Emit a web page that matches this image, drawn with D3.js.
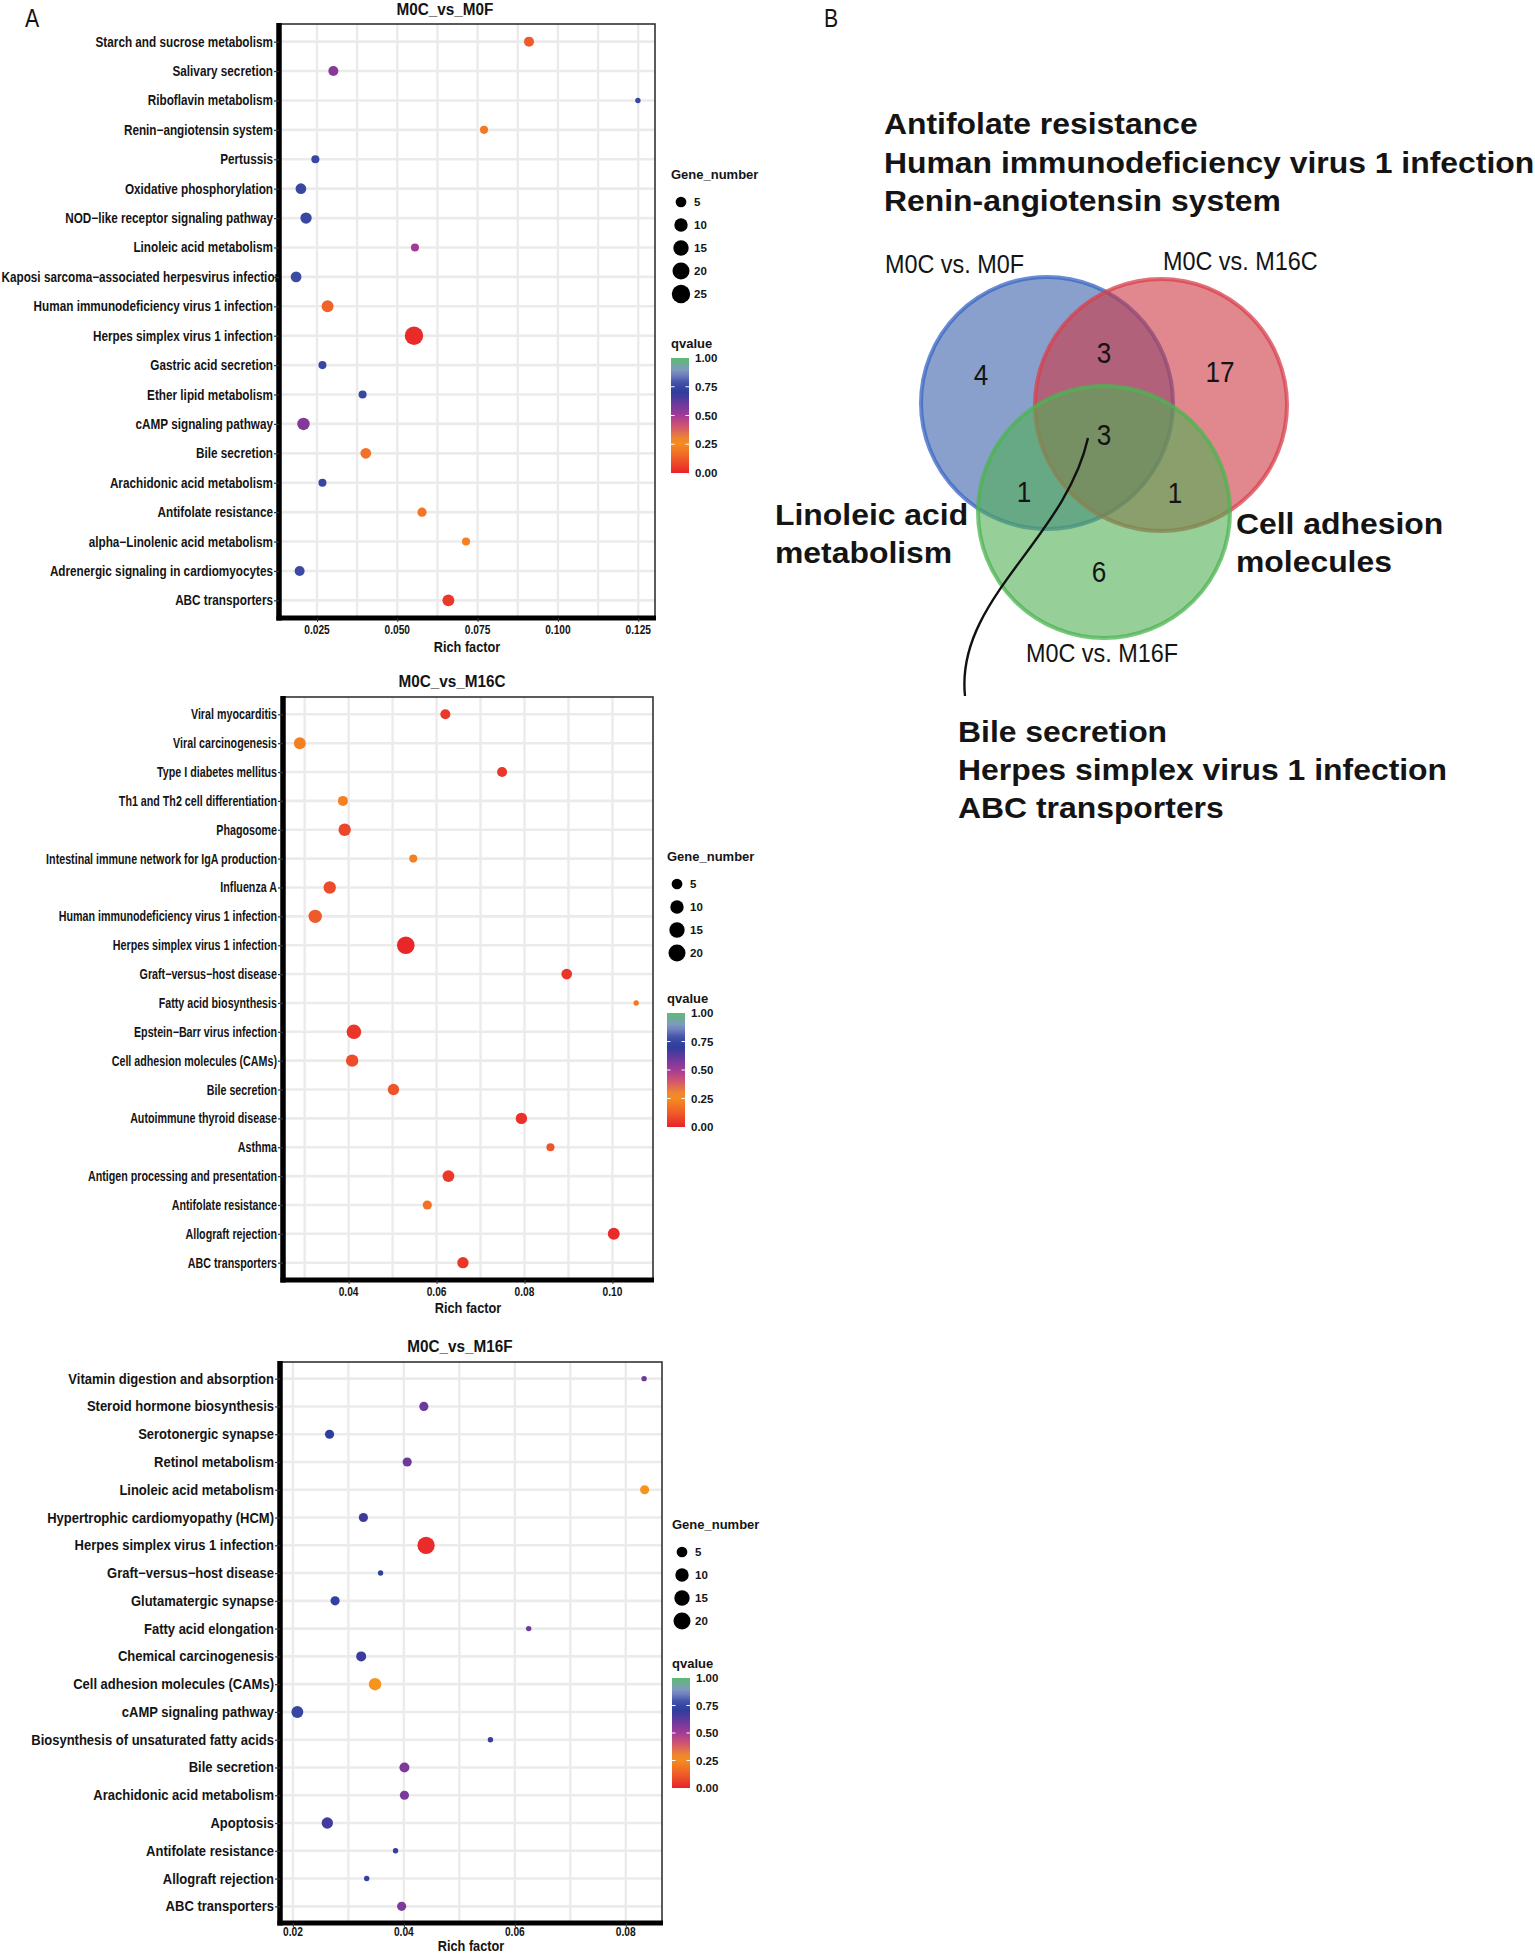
<!DOCTYPE html>
<html>
<head>
<meta charset="utf-8">
<script src="https://cdnjs.cloudflare.com/ajax/libs/d3/7.8.5/d3.min.js"></script>
<style>
    body { margin: 0; background: #fff; }
    svg { display: block; }
    text { font-family: "Liberation Sans", Arial, sans-serif; fill: #141414; }
</style>
</head>
<body>
<svg id="fig" width="1535" height="1954"></svg>
<script>
    // ---- M0C_vs_M0F ----
    const m0fPathways = ["Starch and sucrose metabolism", "Salivary secretion", "Riboflavin metabolism",
        "Renin\u2212angiotensin system", "Pertussis", "Oxidative phosphorylation", "NOD\u2212like receptor signaling pathway",
        "Linoleic acid metabolism", "Kaposi sarcoma\u2212associated herpesvirus infection", "Human immunodeficiency virus 1 infection",
        "Herpes simplex virus 1 infection", "Gastric acid secretion", "Ether lipid metabolism", "cAMP signaling pathway",
        "Bile secretion", "Arachidonic acid metabolism", "Antifolate resistance", "alpha\u2212Linolenic acid metabolism",
        "Adrenergic signaling in cardiomyocytes", "ABC transporters"];
    const m0fRich = [0.0910, 0.0301, 0.1249, 0.0770, 0.0245, 0.0200, 0.0216, 0.0555, 0.0185, 0.0283,
        0.0552, 0.0267, 0.0392, 0.0208, 0.0402, 0.0267, 0.0577, 0.0714, 0.0196, 0.0659];
    const m0fGenes = [4, 4, 1, 2, 2, 5, 6, 2, 5, 7, 25, 2, 2, 8, 5, 2, 3, 2, 4, 7];
    const m0fQ = [0.12, 0.55, 0.76, 0.20, 0.76, 0.76, 0.76, 0.50, 0.78, 0.14,
        0.02, 0.76, 0.76, 0.56, 0.18, 0.76, 0.19, 0.22, 0.78, 0.05];
    const m0fTicks = [0.025, 0.05, 0.075, 0.1, 0.125];
    const m0fGeneBreaks = [5, 10, 15, 20, 25];

    // ---- M0C_vs_M16C ----
    const m16cPathways = ["Viral myocarditis", "Viral carcinogenesis", "Type I diabetes mellitus",
        "Th1 and Th2 cell differentiation", "Phagosome", "Intestinal immune network for IgA production", "Influenza A",
        "Human immunodeficiency virus 1 infection", "Herpes simplex virus 1 infection", "Graft\u2212versus\u2212host disease",
        "Fatty acid biosynthesis", "Epstein\u2212Barr virus infection", "Cell adhesion molecules (CAMs)", "Bile secretion",
        "Autoimmune thyroid disease", "Asthma", "Antigen processing and presentation", "Antifolate resistance",
        "Allograft rejection", "ABC transporters"];
    const m16cRich = [0.0620, 0.0289, 0.0749, 0.0387, 0.0391, 0.0547, 0.0357, 0.0324, 0.0530, 0.0896,
        0.1054, 0.0412, 0.0408, 0.0502, 0.0793, 0.0859, 0.0627, 0.0579, 0.1003, 0.0660];
    const m16cGenes = [4, 7, 4, 4, 8, 2, 8, 10, 22, 5, 1, 13, 8, 6, 6, 2, 7, 3, 7, 6];
    const m16cQ = [0.05, 0.22, 0.04, 0.22, 0.08, 0.22, 0.09, 0.12, 0.01, 0.04,
        0.20, 0.04, 0.09, 0.11, 0.03, 0.11, 0.05, 0.18, 0.02, 0.04];
    const m16cTicks = [0.04, 0.06, 0.08, 0.10];
    const m16cGeneBreaks = [5, 10, 15, 20];

    // ---- M0C_vs_M16F ----
    const m16fPathways = ["Vitamin digestion and absorption", "Steroid hormone biosynthesis", "Serotonergic synapse",
        "Retinol metabolism", "Linoleic acid metabolism", "Hypertrophic cardiomyopathy (HCM)",
        "Herpes simplex virus 1 infection", "Graft\u2212versus\u2212host disease", "Glutamatergic synapse",
        "Fatty acid elongation", "Chemical carcinogenesis", "Cell adhesion molecules (CAMs)", "cAMP signaling pathway",
        "Biosynthesis of unsaturated fatty acids", "Bile secretion", "Arachidonic acid metabolism", "Apoptosis",
        "Antifolate resistance", "Allograft rejection", "ABC transporters"];
    const m16fRich = [0.0833, 0.0436, 0.0266, 0.0406, 0.0834, 0.0327, 0.0440, 0.0358, 0.0276, 0.0625,
        0.0323, 0.0348, 0.0208, 0.0556, 0.0401, 0.0401, 0.0262, 0.0385, 0.0333, 0.0396];
    const m16fGenes = [1, 3, 3, 3, 3, 3, 21, 1, 3, 1, 4, 8, 7, 1, 4, 3, 6, 1, 1, 3];
    const m16fQ = [0.60, 0.60, 0.70, 0.60, 0.27, 0.68, 0.02, 0.72, 0.72, 0.60,
        0.68, 0.27, 0.75, 0.68, 0.57, 0.57, 0.67, 0.72, 0.72, 0.57];
    const m16fTicks = [0.02, 0.04, 0.06, 0.08];
    const m16fGeneBreaks = [5, 10, 15, 20];

    const qBreaks = [0, 0.25, 0.5, 0.75, 1];

    // ---- Venn (B) ----
    const vennSets = ["M0C vs. M0F", "M0C vs. M16C", "M0C vs. M16F"];
    // regions: M0F only, M16C only, M16F only, M0F&M16C, M0F&M16F, M16C&M16F, all three
    const vennCounts = [4, 17, 6, 3, 1, 1, 3];
    const sharedM0fM16c = ["Antifolate resistance", "Human immunodeficiency virus 1 infection", "Renin-angiotensin system"];
    const sharedM0fM16f = ["Linoleic acid", "metabolism"];
    const sharedM16cM16f = ["Cell adhesion", "molecules"];
    const sharedAll = ["Bile secretion", "Herpes simplex virus 1 infection", "ABC transporters"];

    // qvalue colour ramp (red -> orange -> purple -> blue -> green)
    const qColor = d3.scaleLinear()
        .domain([0, 0.12, 0.27, 0.4, 0.5, 0.6, 0.7, 0.78, 0.88, 1])
        .range(["#e82229", "#ee5a2a", "#f7941d", "#d2566e", "#a33b95", "#6c399c", "#2f3d9d", "#3b4ba3", "#8594cb", "#5cbc71"]);

    // gene number -> radius (area style, size 1 at smallest)
    const rScale = d3.scaleSqrt().domain([0, 24]).range([2.7, 2.7 + 1.33 * Math.sqrt(24)]);

    const svg = d3.select("#fig");
    const defs = svg.append("defs");

    const grad = defs.append("linearGradient").attr("id", "qgrad")
        .attr("x1", 0).attr("y1", 1).attr("x2", 0).attr("y2", 0);
    grad.selectAll("stop").data(d3.range(0, 1.0001, 0.05)).join("stop")
        .attr("offset", d => d)
        .attr("stop-color", d => qColor(d));

    // squeeze text horizontally, the figure uses a condensed face
    function narrowText(sel, x, y, k) {
        return sel.attr("transform", `translate(${x},${y}) scale(${k},1)`);
    }

    function dotPanel(p) {
        const g = svg.append("g");
        const lo = d3.min(p.rich), hi = d3.max(p.rich), pad = (hi - lo) * 0.05;
        const x = d3.scaleLinear().domain([lo - pad, hi + pad]).range([p.left, p.right]);
        const y = d3.scalePoint().domain(p.cats).range([p.top, p.bottom]).padding(0.6);

        const step = p.ticks[1] - p.ticks[0];
        const minors = d3.range(p.ticks[0] - step / 2, hi + pad, step).filter(v => v > lo - pad);

        // grid
        g.selectAll("line.vgrid").data(p.ticks.concat(minors)).join("line")
            .attr("x1", d => x(d)).attr("x2", d => x(d))
            .attr("y1", p.top).attr("y2", p.bottom)
            .attr("stroke", "#ebebeb").attr("stroke-width", 2.4);
        g.selectAll("line.hgrid").data(p.cats).join("line")
            .attr("x1", p.left).attr("x2", p.right)
            .attr("y1", d => y(d)).attr("y2", d => y(d))
            .attr("stroke", "#ebebeb").attr("stroke-width", 2.6);

        // points
        g.selectAll("circle").data(p.cats).join("circle")
            .attr("cx", (d, i) => x(p.rich[i]))
            .attr("cy", d => y(d))
            .attr("r", (d, i) => rScale(p.genes[i] - 1))
            .attr("fill", (d, i) => qColor(p.q[i]));

        // frame
        g.append("rect").attr("x", p.left).attr("y", p.top)
            .attr("width", p.right - p.left).attr("height", p.bottom - p.top)
            .attr("fill", "none").attr("stroke", "#333").attr("stroke-width", 1.6);

        // y labels first so the thick axis line is drawn over long ones
        g.selectAll("text.ylab").data(p.cats).join("text").attr("class", "ylab")
            .attr("text-anchor", "end")
            .style("font-size", "14px").style("font-weight", "bold")
            .text(d => d)
            .each(function (d) {
                const w = this.getComputedTextLength() * p.labK;
                let xe = p.left - 6;
                if (xe - w < 1) xe = 1 + w;
                narrowText(d3.select(this), xe, y(d) + 5, p.labK);
            });

        // left axis
        const yAxis = g.append("g").attr("transform", `translate(${p.left},0)`)
            .call(d3.axisLeft(y).tickSize(5).tickSizeOuter(0).tickFormat(""));
        yAxis.select(".domain").attr("stroke", "#000").attr("stroke-width", 5.5)
            .attr("d", `M0,${p.top - 1}V${p.bottom + 2.5}`);
        yAxis.selectAll(".tick line").attr("stroke", "#333").attr("stroke-width", 1.2);

        // bottom axis
        const xAxis = g.append("g").attr("transform", `translate(0,${p.bottom})`)
            .call(d3.axisBottom(x).tickValues(p.ticks).tickSize(4).tickSizeOuter(0).tickFormat(d3.format(p.fmt)));
        xAxis.select(".domain").attr("stroke", "#000").attr("stroke-width", 5)
            .attr("d", `M${p.left - 2.5},0H${p.right + 1}`);
        xAxis.selectAll(".tick line").attr("stroke", "#333");
        xAxis.selectAll(".tick text").remove();
        g.selectAll("text.xlab").data(p.ticks).join("text").attr("class", "xlab")
            .attr("text-anchor", "middle")
            .style("font-size", "12px").style("font-weight", "bold")
            .text(d => d3.format(p.fmt)(d))
            .each(function (d) { narrowText(d3.select(this), x(d), p.bottom + p.tickDy, 0.85); });

        narrowText(g.append("text"), (p.left + p.right) / 2, p.bottom + p.labDy, 0.85)
            .attr("text-anchor", "middle")
            .style("font-size", "15px").style("font-weight", "bold")
            .text("Rich factor");

        narrowText(g.append("text"), p.titleX, p.titleY, 0.9)
            .attr("text-anchor", "middle")
            .style("font-size", "17px").style("font-weight", "bold")
            .text(p.title);

        // size legend
        const lg = g.append("g").attr("transform", `translate(${p.legX},${p.legY})`);
        lg.append("text").attr("x", 0).attr("y", 0)
            .style("font-size", "13px").style("font-weight", "bold").text("Gene_number");
        lg.selectAll("circle").data(p.geneBreaks).join("circle")
            .attr("cx", 10).attr("cy", (d, i) => 23 + i * 23)
            .attr("r", d => rScale(d - 1)).attr("fill", "#000");
        lg.selectAll("text.gl").data(p.geneBreaks).join("text").attr("class", "gl")
            .attr("x", 23).attr("y", (d, i) => 27 + i * 23)
            .style("font-size", "11.5px").style("font-weight", "bold").text(d => d);

        // colour legend
        const cg = g.append("g").attr("transform", `translate(${p.legX},${p.barY})`);
        const barH = p.barH, barW = 18;
        const qy = d3.scaleLinear().domain([0, 1]).range([barH, 0]);
        cg.append("text").attr("x", 0).attr("y", -10)
            .style("font-size", "13px").style("font-weight", "bold").text("qvalue");
        cg.append("rect").attr("x", 0).attr("y", 0).attr("width", barW).attr("height", barH)
            .attr("fill", "url(#qgrad)");
        cg.selectAll("line.tl").data(qBreaks.slice(1, 4)).join("line")
            .attr("x1", 0).attr("x2", 3.5).attr("y1", d => qy(d)).attr("y2", d => qy(d))
            .attr("stroke", "#fff").attr("stroke-width", 1);
        cg.selectAll("line.tr").data(qBreaks.slice(1, 4)).join("line")
            .attr("x1", barW - 3.5).attr("x2", barW).attr("y1", d => qy(d)).attr("y2", d => qy(d))
            .attr("stroke", "#fff").attr("stroke-width", 1);
        cg.selectAll("text.ql").data(qBreaks).join("text").attr("class", "ql")
            .attr("x", barW + 6).attr("y", d => qy(d) + 4)
            .style("font-size", "11.5px").style("font-weight", "bold")
            .text(d => d3.format(".2f")(d));
    }

    dotPanel({ title: "M0C_vs_M0F", cats: m0fPathways, rich: m0fRich, genes: m0fGenes, q: m0fQ,
        ticks: m0fTicks, fmt: ".3f", geneBreaks: m0fGeneBreaks, labK: 0.84,
        left: 279, right: 655, top: 24, bottom: 618, titleX: 445, titleY: 15, tickDy: 16, labDy: 34,
        legX: 671, legY: 179, barY: 358, barH: 115 });
    dotPanel({ title: "M0C_vs_M16C", cats: m16cPathways, rich: m16cRich, genes: m16cGenes, q: m16cQ,
        ticks: m16cTicks, fmt: ".2f", geneBreaks: m16cGeneBreaks, labK: 0.765,
        left: 283, right: 653, top: 697, bottom: 1280, titleX: 452, titleY: 687, tickDy: 16, labDy: 33,
        legX: 667, legY: 861, barY: 1013, barH: 114 });
    dotPanel({ title: "M0C_vs_M16F", cats: m16fPathways, rich: m16fRich, genes: m16fGenes, q: m16fQ,
        ticks: m16fTicks, fmt: ".2f", geneBreaks: m16fGeneBreaks, labK: 0.93,
        left: 280, right: 662, top: 1362, bottom: 1923, titleX: 460, titleY: 1352, tickDy: 13, labDy: 28,
        legX: 672, legY: 1529, barY: 1678, barH: 110 });

    // panel letters
    narrowText(svg.append("text"), 25, 27, 0.85).style("font-size", "25px").text("A");
    narrowText(svg.append("text"), 824, 27, 0.85).style("font-size", "25px").text("B");

    // ---- Venn ----
    const vg = svg.append("g");
    const venn = [
        { cx: 1047, cy: 403, fill: "#3c61aa", stroke: "#3a66c4" },
        { cx: 1161, cy: 405, fill: "#cb3943", stroke: "#d8404c" },
        { cx: 1104, cy: 512, fill: "#50af53", stroke: "#4cb452" }
    ];
    vg.selectAll("circle").data(venn).join("circle")
        .attr("cx", d => d.cx).attr("cy", d => d.cy).attr("r", 126)
        .attr("fill", d => d.fill).attr("fill-opacity", 0.6)
        .attr("stroke", d => d.stroke).attr("stroke-width", 4).attr("stroke-opacity", 0.75);

    // count labels, offsets from the circle centres
    const A = venn[0], Bc = venn[1], Cc = venn[2];
    const countPos = [
        [A.cx - 66, A.cy - 28], [Bc.cx + 59, Bc.cy - 33], [Cc.cx - 5, Cc.cy + 60],
        [(A.cx + Bc.cx) / 2, A.cy - 50], [A.cx - 23, Cc.cy - 20], [Bc.cx + 14, Cc.cy - 19],
        [Cc.cx, Cc.cy - 77]
    ];
    vg.selectAll("text.cnt").data(vennCounts).join("text").attr("class", "cnt")
        .attr("text-anchor", "middle")
        .style("font-size", "29px")
        .text(d => d)
        .each(function (d, i) { narrowText(d3.select(this), countPos[i][0], countPos[i][1] + 10, 0.9); });

    const setPos = [[885, 273], [1163, 270], [1026, 662]];
    vg.selectAll("text.set").data(vennSets).join("text").attr("class", "set")
        .style("font-size", "26px")
        .text(d => d)
        .each(function (d, i) { narrowText(d3.select(this), setPos[i][0], setPos[i][1], 0.9); });

    function textBlock(lines, x, y0, lh) {
        vg.append("g").selectAll("text").data(lines).join("text")
            .style("font-size", "29px").style("font-weight", "bold")
            .text(d => d)
            .each(function (d, i) { narrowText(d3.select(this), x, y0 + i * lh, 1.1); });
    }
    textBlock(sharedM0fM16c, 884, 134, 38.5);
    textBlock(sharedM0fM16f, 775, 525, 38);
    textBlock(sharedM16cM16f, 1236, 534, 38);
    textBlock(sharedAll, 958, 742, 38);

    // leader from the triple overlap to its list
    vg.append("path")
        .attr("d", "M1088,438 C1065,540 955,600 965,696")
        .attr("fill", "none").attr("stroke", "#111").attr("stroke-width", 2.4);
</script>
</body>
</html>
